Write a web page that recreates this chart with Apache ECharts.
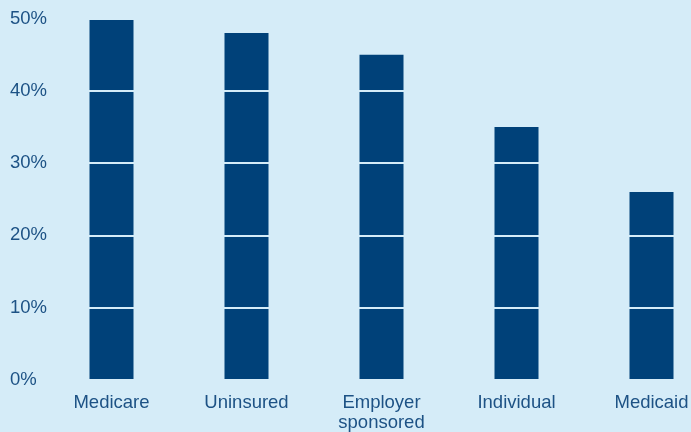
<!DOCTYPE html>
<html>
<head>
<meta charset="utf-8">
<script src="https://cdn.jsdelivr.net/npm/echarts@6/dist/echarts.min.js"></script>
<style>
  html, body { margin: 0; padding: 0; background: #d5ecf8; }
  #chart { width: 691px; height: 432px; }
</style>
</head>
<body>
<div id="chart"></div>
<script>
// Share of people in each coverage group (percent)
const categories = ['Medicare', 'Uninsured', 'Employer\nsponsored', 'Individual', 'Medicaid'];
const shares = [50, 48, 45, 35, 26];
const yTicks = [0, 10, 20, 30, 40, 50];

const bg = '#d5ecf8';
const barColor = '#004179';
const textColor = '#1d5285';
const font = 'Liberation Sans, Arial, Helvetica, sans-serif';

const chart = echarts.init(document.getElementById('chart'), null, { renderer: 'canvas' });
chart.setOption({
  backgroundColor: bg,
  animation: false,
  grid: {
    left: 44, top: 18.5, width: 675, height: 361.5,
    containLabel: false,
    outerBoundsMode: 'none'
  },
  xAxis: {
    type: 'category',
    data: categories,
    axisLine: { show: false },
    axisTick: { show: false },
    axisLabel: {
      color: textColor,
      fontFamily: font,
      fontSize: 18.5,
      margin: 13,
      lineHeight: 20,
      hideOverlap: false,
      interval: 0
    }
  },
  yAxis: {
    type: 'value',
    min: yTicks[0],
    max: yTicks[yTicks.length - 1],
    interval: 10,
    z: 5,
    axisLine: { show: false },
    axisTick: { show: false },
    splitLine: { show: true, lineStyle: { color: bg, width: 2 } },
    axisLabel: {
      align: 'left',
      margin: 34,
      color: textColor,
      fontFamily: font,
      fontSize: 18.5,
      formatter: v => v + '%'
    }
  },
  series: [{
    type: 'bar',
    data: shares,
    barWidth: 44,
    itemStyle: { color: barColor },
    z: 2
  }]
});
</script>
</body>
</html>
